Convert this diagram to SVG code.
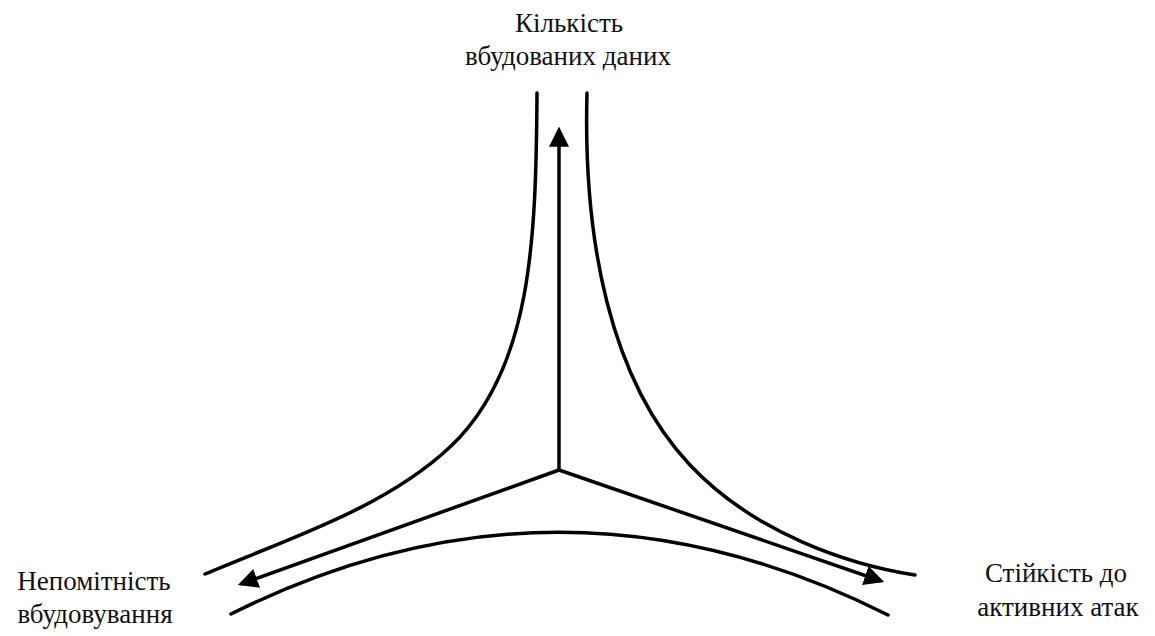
<svg xmlns="http://www.w3.org/2000/svg" width="1155" height="636" viewBox="0 0 1155 636">
<style>
.c{fill:none;stroke:#000;stroke-width:3.5;stroke-linecap:round}
.a{fill:none;stroke:#000;stroke-width:3.5}
.t{font-family:'Liberation Serif','Tinos','Times New Roman','Noto Serif','DejaVu Serif',serif;font-size:27px;fill:#111;text-anchor:middle}
</style>
<defs>
<marker id="ah" markerUnits="userSpaceOnUse" markerWidth="20" markerHeight="20" viewBox="0 0 18 18" refX="15" refY="9" orient="auto">
<path d="M0,0 L18,9 L0,18 z" fill="#000"/>
</marker>
</defs>
<g id="curves">
<path class="c" d="M537,93 C536,240 532,370 450,447 C385,508 290,538 205,574"/>
<path class="c" d="M587,93 C583,240 610,380 690,465 C755,534 850,565 915,575"/>
<path class="c" d="M231,614 Q560,450 888,615"/>
</g>
<g id="connectors">
<line class="a" x1="559" y1="472" x2="559" y2="130" marker-end="url(#ah)"/>
<line class="a" x1="559" y1="470" x2="241" y2="584" marker-end="url(#ah)"/>
<line class="a" x1="559" y1="470" x2="881" y2="581" marker-end="url(#ah)"/>
</g>
<g id="node-top">
<text class="t" x="569" y="32">Кількість</text>
<text class="t" x="568" y="65">вбудованих даних</text>
</g>
<g id="node-left">
<text class="t" x="94" y="590">Непомітність</text>
<text class="t" x="95" y="623">вбудовування</text>
</g>
<g id="node-right">
<text class="t" x="1056" y="582">Стійкість до</text>
<text class="t" x="1058" y="616">активних атак</text>
</g>
</svg>
